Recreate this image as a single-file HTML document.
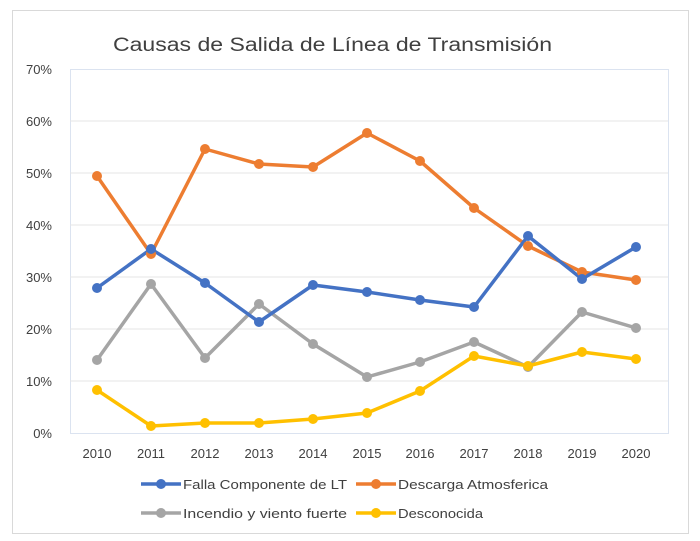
<!DOCTYPE html><html><head><meta charset="utf-8"><style>body{margin:0;background:#fff}svg{display:block;font-family:"Liberation Sans",sans-serif}</style></head><body>
<svg width="700" height="541" viewBox="0 0 700 541">
<rect x="12.5" y="10.5" width="676" height="523" fill="#fff" stroke="#d9d9d9"/>
<text x="113" y="51" font-size="19" fill="#404040" textLength="439" lengthAdjust="spacingAndGlyphs">Causas de Salida de Línea de Transmisión</text>
<rect x="70.5" y="69.5" width="598" height="364" fill="none" stroke="#dbe3f0"/>
<g stroke="#e6e6e6">
<line x1="70" x2="668" y1="121" y2="121"/><line x1="70" x2="668" y1="173" y2="173"/><line x1="70" x2="668" y1="225" y2="225"/><line x1="70" x2="668" y1="277" y2="277"/><line x1="70" x2="668" y1="329" y2="329"/><line x1="70" x2="668" y1="381" y2="381"/></g>
<g font-size="13" fill="#404040" text-anchor="end">
<text x="52" y="74">70%</text><text x="52" y="126">60%</text><text x="52" y="178">50%</text><text x="52" y="230">40%</text><text x="52" y="282">30%</text><text x="52" y="334">20%</text><text x="52" y="386">10%</text><text x="52" y="438">0%</text></g>
<g font-size="13" fill="#404040" text-anchor="middle">
<text x="97" y="458">2010</text><text x="151" y="458">2011</text><text x="205" y="458">2012</text><text x="259" y="458">2013</text><text x="313" y="458">2014</text><text x="367" y="458">2015</text><text x="420" y="458">2016</text><text x="474" y="458">2017</text><text x="528" y="458">2018</text><text x="582" y="458">2019</text><text x="636" y="458">2020</text></g>
<g fill="none" stroke-width="3.5" stroke-linejoin="round">
<polyline stroke="#a5a5a5" points="97,360 151,284 205,358 259,304 313,344 367,377 420,362 474,342 528,367 582,312 636,328"/>
<polyline stroke="#ffc000" points="97,390 151,426 205,423 259,423 313,419 367,413 420,391 474,356 528,366 582,352 636,359"/>
<polyline stroke="#ed7d31" points="97,176 151,254 205,149 259,164 313,167 367,133 420,161 474,208 528,246 582,272 636,280"/>
<polyline stroke="#4472c4" points="97,288 151,249 205,283 259,322 313,285 367,292 420,300 474,307 528,236 582,279 636,247"/>
</g>
<g fill="#a5a5a5"><circle cx="97" cy="360" r="5"/><circle cx="151" cy="284" r="5"/><circle cx="205" cy="358" r="5"/><circle cx="259" cy="304" r="5"/><circle cx="313" cy="344" r="5"/><circle cx="367" cy="377" r="5"/><circle cx="420" cy="362" r="5"/><circle cx="474" cy="342" r="5"/><circle cx="528" cy="367" r="5"/><circle cx="582" cy="312" r="5"/><circle cx="636" cy="328" r="5"/></g>
<g fill="#ffc000"><circle cx="97" cy="390" r="5"/><circle cx="151" cy="426" r="5"/><circle cx="205" cy="423" r="5"/><circle cx="259" cy="423" r="5"/><circle cx="313" cy="419" r="5"/><circle cx="367" cy="413" r="5"/><circle cx="420" cy="391" r="5"/><circle cx="474" cy="356" r="5"/><circle cx="528" cy="366" r="5"/><circle cx="582" cy="352" r="5"/><circle cx="636" cy="359" r="5"/></g>
<g fill="#ed7d31"><circle cx="97" cy="176" r="5"/><circle cx="151" cy="254" r="5"/><circle cx="205" cy="149" r="5"/><circle cx="259" cy="164" r="5"/><circle cx="313" cy="167" r="5"/><circle cx="367" cy="133" r="5"/><circle cx="420" cy="161" r="5"/><circle cx="474" cy="208" r="5"/><circle cx="528" cy="246" r="5"/><circle cx="582" cy="272" r="5"/><circle cx="636" cy="280" r="5"/></g>
<g fill="#4472c4"><circle cx="97" cy="288" r="5"/><circle cx="151" cy="249" r="5"/><circle cx="205" cy="283" r="5"/><circle cx="259" cy="322" r="5"/><circle cx="313" cy="285" r="5"/><circle cx="367" cy="292" r="5"/><circle cx="420" cy="300" r="5"/><circle cx="474" cy="307" r="5"/><circle cx="528" cy="236" r="5"/><circle cx="582" cy="279" r="5"/><circle cx="636" cy="247" r="5"/></g>
<g stroke-width="3.5">
<line x1="141" x2="181" y1="484" y2="484" stroke="#4472c4"/><circle cx="161" cy="484" r="5" fill="#4472c4"/>
<line x1="356" x2="396" y1="484" y2="484" stroke="#ed7d31"/><circle cx="376" cy="484" r="5" fill="#ed7d31"/>
<line x1="141" x2="181" y1="513" y2="513" stroke="#a5a5a5"/><circle cx="161" cy="513" r="5" fill="#a5a5a5"/>
<line x1="356" x2="396" y1="513" y2="513" stroke="#ffc000"/><circle cx="376" cy="513" r="5" fill="#ffc000"/>
</g>
<g font-size="13" fill="#404040">
<text x="183" y="489" textLength="164" lengthAdjust="spacingAndGlyphs">Falla Componente de LT</text><text x="398" y="489" textLength="150" lengthAdjust="spacingAndGlyphs">Descarga Atmosferica</text>
<text x="183" y="518" textLength="164" lengthAdjust="spacingAndGlyphs">Incendio y viento fuerte</text><text x="398" y="518" textLength="85" lengthAdjust="spacingAndGlyphs">Desconocida</text></g>
</svg></body></html>
